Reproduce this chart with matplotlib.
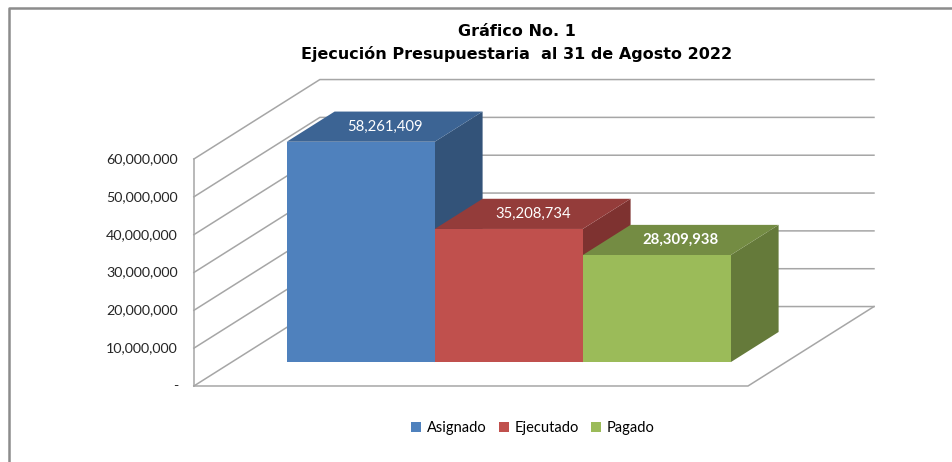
import matplotlib
matplotlib.use("Agg")
import matplotlib.pyplot as plt
from matplotlib.patches import Polygon, Patch
from matplotlib.lines import Line2D
import matplotlib.transforms as mtransforms

plt.rcParams['font.family'] = ['Lato', 'DejaVu Sans']

# ---- data ----
categories = ["Asignado", "Ejecutado", "Pagado"]
values = [58261409, 35208734, 28309938]
value_labels = ["58,261,409", "35,208,734", "28,309,938"]
label_bold = [False, False, True]
tick_values = [0, 10000000, 20000000, 30000000, 40000000, 50000000, 60000000]
tick_labels = ["-", "10,000,000", "20,000,000", "30,000,000", "40,000,000", "50,000,000", "60,000,000"]
front_colors = ["#4F81BD", "#C0504D", "#9BBB59"]
top_colors = ["#3C6494", "#943C3A", "#748C43"]
side_colors = ["#335379", "#7E3230", "#657A3A"]
title = "Gráfico No. 1\nEjecución Presupuestaria  al 31 de Agosto 2022"

# ---- pseudo-3D geometry (data units) ----
DXU = 0.851          # horizontal shift for full depth, in category units
DYV = 21.0e6         # vertical shift for full depth, in value units
WALL_L, WALL_R = -0.872, 2.872
D_F, D_B = 0.30, 0.68
YMAX = 60e6

def P(x, v, d):
    return (x + d * DXU, v + d * DYV)

fig = plt.figure(figsize=(9.53, 4.62), dpi=100)
ax = fig.add_axes([0, 0, 1, 1])
ax.set_xlim(-2.182, 4.257)
ax.set_ylim(-20.09e6, 102.03e6)
ax.axis('off')

gc = "#A6A6A6"
lw = 1.1
# left wall diagonals + back wall gridlines
for v in tick_values:
    a = P(WALL_L, v, 0); b = P(WALL_L, v, 1); c = P(WALL_R, v, 1)
    ax.add_line(Line2D([a[0], b[0], c[0]], [a[1], b[1], c[1]], color=gc, lw=lw, zorder=1))
# front vertical edge of left wall
a = P(WALL_L, 0, 0); b = P(WALL_L, YMAX, 0)
ax.add_line(Line2D([a[0], b[0]], [a[1], b[1]], color=gc, lw=lw, zorder=1))
# floor front and right edges
a = P(WALL_L, 0, 0); b = P(WALL_R, 0, 0); c = P(WALL_R, 0, 1)
ax.add_line(Line2D([a[0], b[0], c[0]], [a[1], b[1], c[1]], color=gc, lw=lw, zorder=1))

# bars
for i, h in enumerate(values):
    x0, x1 = i - 0.5, i + 0.5
    front = [P(x0, 0, D_F), P(x1, 0, D_F), P(x1, h, D_F), P(x0, h, D_F)]
    top = [P(x0, h, D_F), P(x1, h, D_F), P(x1, h, D_B), P(x0, h, D_B)]
    side = [P(x1, 0, D_F), P(x1, 0, D_B), P(x1, h, D_B), P(x1, h, D_F)]
    z = 2 + i
    ax.add_patch(Polygon(side, closed=True, fc=side_colors[i], ec='none', zorder=z))
    ax.add_patch(Polygon(top, closed=True, fc=top_colors[i], ec='none', zorder=z))
    ax.add_patch(Polygon(front, closed=True, fc=front_colors[i], ec='none', zorder=z))
    cx, cy = P(i, h, (D_F + D_B) / 2)
    ax.text(cx, cy, value_labels[i], color='white', fontsize=10.7,
            fontweight='bold' if label_bold[i] else 'normal',
            ha='center', va='center', zorder=10)

# y tick labels
off = mtransforms.offset_copy(ax.transData, fig=fig, x=-16, y=0, units='dots')
for v, t in zip(tick_values, tick_labels):
    ax.text(WALL_L, v, t, transform=off, ha='right', va='center', fontsize=10.3, color='#262626')

# title
fig.text(517 / 953, 1 - 43 / 462, title, ha='center', va='center', fontsize=11.5,
         fontweight='bold', linespacing=1.6, color='black',
         family=['DejaVu Sans'])

# legend
handles = [Patch(facecolor=c, edgecolor='none', label=l) for c, l in zip(front_colors, categories)]
fig.legend(handles=handles, loc='center', bbox_to_anchor=(533 / 953, 1 - 428 / 462), ncol=3,
           frameon=False, fontsize=10.5, handlelength=0.7, handleheight=0.7,
           handletextpad=0.4, columnspacing=0.8)

# outer border (left and top)
fig.add_artist(Line2D([9 / 953, 9 / 953, 1.0], [0.0, 1 - 8 / 462, 1 - 8 / 462],
                      transform=fig.transFigure, color='#8C8C8C', lw=1.8))

fig.savefig("out.png", dpi=100, facecolor='white')
